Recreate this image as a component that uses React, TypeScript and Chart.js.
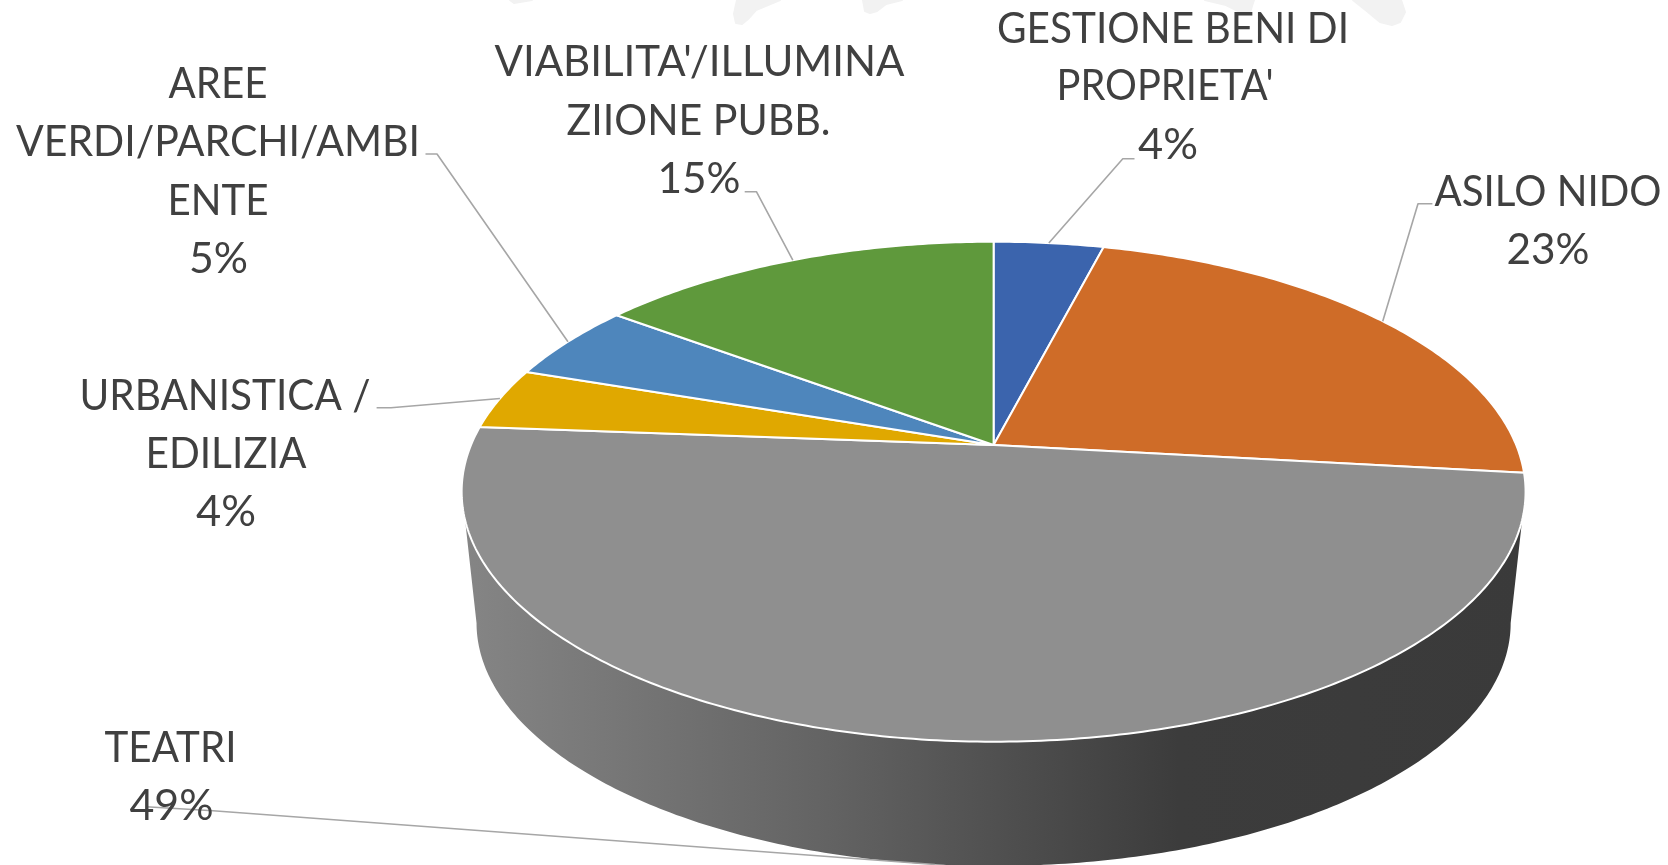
import React, { useEffect, useRef } from "react";
import { Chart, registerables } from "chart.js";

Chart.register(...registerables);

const categories = [
  "GESTIONE BENI DI PROPRIETA'",
  "ASILO NIDO",
  "TEATRI",
  "URBANISTICA / EDILIZIA",
  "AREE VERDI/PARCHI/AMBIENTE",
  "VIABILITA'/ILLUMINAZIIONE PUBB.",
];
const values = [4.0, 22.8, 49.4, 4.0, 5.0, 14.8];
const colors = ["#3B64AD", "#CF6C28", "#8F8F8F", "#E0A800", "#4E86BC", "#5F993C"];
const wrappedNames = [
  ["GESTIONE BENI DI", "PROPRIETA'"],
  ["ASILO NIDO"],
  ["TEATRI"],
  ["URBANISTICA /", "EDILIZIA"],
  ["AREE", "VERDI/PARCHI/AMBI", "ENTE"],
  ["VIABILITA'/ILLUMINA", "ZIIONE PUBB."],
];

// Label layout: per line [centre x, centre y of the capitals, target width]
const lineBoxes: number[][][] = [
  [[1173, 27, 352], [1165, 84, 217], [1168, 143, 60]],
  [[1548, 190, 227], [1548, 248, 83]],
  [[170.5, 746, 132], [171.5, 804, 84]],
  [[225, 394, 291], [226, 452, 161], [226, 510, 60]],
  [[218, 82, 99], [218, 140, 404], [218, 199, 101], [218.5, 257, 59]],
  [[699.5, 60, 410], [698.5, 119, 264], [699, 177, 83]],
];
// Leader bends, from the label side towards the slice
const leaderBends: number[][][] = [
  [[1134.5, 158.7], [1122.8, 158.7]],
  [[1432.4, 203.7], [1418, 203.7]],
  [[146, 806.7], [213, 810.7]],
  [[376.6, 407.7], [391, 407.7]],
  [[425.5, 154], [437, 154]],
  [[744.7, 191.7], [756.4, 191.7]],
];
const watermark: number[][][] = [
  [[510, 0], [514, 3], [532, 0]],
  [[737, 0], [734, 14], [736, 23], [742, 24], [748, 19], [756, 10], [780, 0]],
  [[863, 0], [865, 11], [870, 13], [877, 11], [886, 4], [902, 0]],
  [[1205, 0], [1226, 5], [1244, 14], [1250, 13], [1252, 6], [1254, 0]],
  [[1353, 0], [1368, 12], [1380, 22], [1392, 25], [1400, 22], [1405, 12], [1401, 0]],
];

const PERSPECTIVE = 0.1868;
const HALF_W = 522.6;
const HALF_H = 241.3;
const WALL_SCALE = 0.972;
const WALL_DROP = 132.6;
const WALL_TOP_ANGLE = Math.asin(0.294);
const WALL_BOTTOM_ANGLE = Math.asin(PERSPECTIVE);

function rim(x0: number, y0: number, angle: number, s = 1) {
  const u = Math.cos(angle);
  const v = Math.sin(angle);
  const w = 1 - PERSPECTIVE * v;
  return [x0 + (s * HALF_W * u) / w, y0 + (s * HALF_H * v) / w];
}

const pie3d = {
  id: "pie3d",
  beforeDraw(chart: any) {
    const { ctx } = chart;
    ctx.save();
    ctx.fillStyle = "#ffffff";
    ctx.fillRect(0, 0, chart.width, chart.height);
    ctx.fillStyle = "#F2F2F2";
    ctx.strokeStyle = "#F2F2F2";
    ctx.lineJoin = "round";
    ctx.lineWidth = 2;
    for (const shape of watermark) {
      ctx.beginPath();
      shape.forEach((p, i) => (i ? ctx.lineTo(p[0], p[1]) : ctx.moveTo(p[0], p[1])));
      ctx.closePath();
      ctx.fill();
      ctx.stroke();
    }
    ctx.restore();
  },
  beforeDatasetDraw(chart: any) {
    const { ctx } = chart;
    const arcs = chart.getDatasetMeta(0).data;
    const x0 = arcs[0].x;
    const y0 = arcs[0].y;
    ctx.save();

    // side wall
    const grad = ctx.createLinearGradient(465, 0, 1530, 0);
    grad.addColorStop(0, "#858585");
    grad.addColorStop(0.34, "#636363");
    grad.addColorStop(0.5, "#505050");
    grad.addColorStop(0.67, "#3C3C3C");
    grad.addColorStop(1, "#3A3A3A");
    ctx.fillStyle = grad;
    ctx.beginPath();
    const N = 240;
    for (let i = 0; i <= N; i++) {
      const a = WALL_TOP_ANGLE + ((Math.PI - 2 * WALL_TOP_ANGLE) * i) / N;
      const p = rim(x0, y0, a);
      i ? ctx.lineTo(p[0], p[1]) : ctx.moveTo(p[0], p[1]);
    }
    for (let i = 0; i <= N; i++) {
      const a = Math.PI - WALL_BOTTOM_ANGLE - ((Math.PI - 2 * WALL_BOTTOM_ANGLE) * i) / N;
      const p = rim(x0, y0 + WALL_DROP, a, WALL_SCALE);
      ctx.lineTo(p[0], p[1]);
    }
    ctx.closePath();
    ctx.fill();

    // top face, slices from the library's own angles
    arcs.forEach((arc: any, idx: number) => {
      const { startAngle, endAngle } = arc.getProps(["startAngle", "endAngle"], true);
      ctx.beginPath();
      ctx.moveTo(x0, y0);
      const steps = Math.max(8, Math.ceil((endAngle - startAngle) * 80));
      for (let i = 0; i <= steps; i++) {
        const p = rim(x0, y0, startAngle + ((endAngle - startAngle) * i) / steps);
        ctx.lineTo(p[0], p[1]);
      }
      ctx.closePath();
      ctx.fillStyle = colors[idx];
      ctx.fill();
      ctx.strokeStyle = "#ffffff";
      ctx.lineWidth = 2;
      ctx.lineJoin = "round";
      ctx.stroke();
    });

    // leader lines
    ctx.strokeStyle = "#A6A6A6";
    ctx.lineWidth = 1.6;
    arcs.forEach((arc: any, idx: number) => {
      const { startAngle, endAngle } = arc.getProps(["startAngle", "endAngle"], true);
      const mid = (startAngle + endAngle) / 2;
      const inFront = Math.sin(mid) > 0.5;
      const end = inFront
        ? rim(x0, y0 + WALL_DROP, mid, WALL_SCALE)
        : rim(x0, y0, mid);
      ctx.beginPath();
      leaderBends[idx].forEach((p, i) => (i ? ctx.lineTo(p[0], p[1]) : ctx.moveTo(p[0], p[1])));
      ctx.lineTo(end[0], end[1]);
      ctx.stroke();
    });

    // labels
    ctx.fillStyle = "#404040";
    ctx.font = "43px Lato";
    ctx.textAlign = "center";
    ctx.textBaseline = "alphabetic";
    categories.forEach((_, idx) => {
      const lines = [...wrappedNames[idx], `${Math.round(values[idx])}%`];
      lines.forEach((text, i) => {
        const [cx, cy, w] = lineBoxes[idx][i];
        const natural = ctx.measureText(text).width;
        ctx.save();
        ctx.translate(cx, cy + 15.5);
        ctx.scale(w / natural, 1);
        ctx.fillText(text, 0, 0);
        ctx.restore();
      });
    });
    ctx.restore();
    return false;
  },
};

export default function App() {
  const ref = useRef<HTMLCanvasElement>(null);
  useEffect(() => {
    const chart = new Chart(ref.current as HTMLCanvasElement, {
      type: "pie",
      data: {
        labels: categories,
        datasets: [{ data: values, backgroundColor: colors, borderColor: "#ffffff", borderWidth: 0 }],
      },
      options: {
        responsive: false,
        animation: false,
        layout: { padding: { left: 573.6, right: 254.4, top: 25, bottom: 0 } },
        plugins: { legend: { display: false }, title: { display: false }, tooltip: { enabled: false } },
      },
      plugins: [pie3d],
    } as any);
    return () => chart.destroy();
  }, []);
  return (
    <canvas
      ref={ref}
      width={1668}
      height={865}
      style={{ position: "fixed", left: 0, top: 0, display: "block" }}
    />
  );
}
